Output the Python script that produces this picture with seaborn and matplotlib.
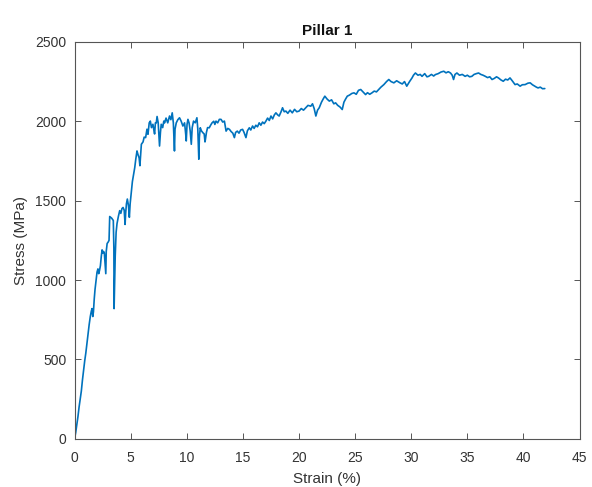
import matplotlib
matplotlib.use("Agg")
import matplotlib.pyplot as plt
import seaborn as sns
import pandas as pd

strain = [0.0, 0.1, 0.2, 0.3, 0.4, 0.5, 0.6, 0.7, 0.8, 0.9, 1.0, 1.1, 1.2, 1.3, 1.4, 1.48, 1.55, 1.62, 1.68, 1.75,
          1.82, 1.9, 2.0, 2.08, 2.15, 2.22, 2.3, 2.38, 2.45, 2.52, 2.58, 2.65, 2.72, 2.78, 2.82, 2.9, 3.0, 3.07, 3.13, 3.3,
          3.45, 3.5, 3.52, 3.56, 3.62, 3.7, 3.78, 3.9, 4.02, 4.12, 4.22, 4.32, 4.42, 4.5, 4.55, 4.62, 4.7, 4.8, 4.88, 4.95,
          5.06, 5.15, 5.25, 5.36, 5.45, 5.56, 5.65, 5.75, 5.82, 5.9, 5.95, 6.1, 6.2, 6.33, 6.45, 6.54, 6.65, 6.75, 6.85, 6.98,
          7.05, 7.13, 7.2, 7.28, 7.35, 7.45, 7.52, 7.57, 7.65, 7.72, 7.85, 7.95, 8.02, 8.15, 8.3, 8.46, 8.58, 8.7, 8.8, 8.86,
          8.9, 8.95, 9.06, 9.2, 9.35, 9.5, 9.65, 9.8, 9.9, 9.95, 10.02, 10.1, 10.2, 10.3, 10.4, 10.48, 10.6, 10.75, 10.9, 10.98,
          11.03, 11.07, 11.12, 11.2, 11.3, 11.43, 11.55, 11.62, 11.66, 11.75, 11.85, 12.0, 12.12, 12.25, 12.4, 12.5, 12.6, 12.75, 12.9, 13.05,
          13.2, 13.35, 13.45, 13.5, 13.65, 13.8, 13.95, 14.1, 14.24, 14.35, 14.5, 14.65, 14.8, 14.97, 15.1, 15.27, 15.4, 15.57, 15.7, 15.86,
          16.0, 16.15, 16.3, 16.45, 16.6, 16.75, 16.9, 17.05, 17.2, 17.35, 17.5, 17.65, 17.8, 17.94, 18.1, 18.23, 18.4, 18.53, 18.68, 18.83,
          19.0, 19.2, 19.4, 19.6, 19.8, 20.0, 20.2, 20.4, 20.6, 20.8, 21.05, 21.2, 21.35, 21.5, 21.65, 21.8, 22.0, 22.15, 22.3, 22.5,
          22.7, 22.9, 23.1, 23.26, 23.45, 23.65, 23.85, 24.0, 24.15, 24.3, 24.5, 24.7, 24.9, 25.1, 25.3, 25.5, 25.7, 25.93, 26.1, 26.3,
          26.5, 26.7, 26.9, 27.1, 27.3, 27.56, 27.8, 28.0, 28.2, 28.45, 28.7, 29.0, 29.2, 29.4, 29.6, 29.85, 30.07, 30.2, 30.37, 30.6,
          30.8, 30.96, 31.2, 31.4, 31.55, 31.8, 32.0, 32.15, 32.4, 32.65, 32.9, 33.1, 33.3, 33.5, 33.65, 33.77, 33.9, 34.07, 34.3, 34.55,
          34.8, 35.0, 35.2, 35.4, 35.6, 35.8, 36.0, 36.2, 36.4, 36.6, 36.8, 37.0, 37.2, 37.4, 37.6, 37.77, 38.0, 38.2, 38.4, 38.6,
          38.8, 39.0, 39.25, 39.45, 39.7, 39.9, 40.15, 40.4, 40.6, 40.8, 41.0, 41.15, 41.3, 41.5, 41.7, 41.9]

stress = [0, 40, 90, 140, 200, 250, 300, 370, 430, 490, 540, 600, 660, 720, 770, 800, 820, 770, 800, 880,
          940, 990, 1050, 1070, 1040, 1060, 1090, 1150, 1190, 1170, 1180, 1170, 1100, 1040, 1180, 1230, 1240, 1250, 1400, 1390,
          1375, 1200, 820, 950, 1150, 1300, 1355, 1400, 1437, 1420, 1450, 1457, 1440, 1350, 1420, 1480, 1510, 1470, 1395, 1480,
          1560, 1620, 1660, 1708, 1760, 1813, 1790, 1770, 1720, 1800, 1855, 1870, 1900, 1897, 1950, 1918, 1990, 2001, 1960, 1981,
          1950, 1920, 1990, 1990, 2030, 1990, 1900, 1844, 1930, 1981, 1960, 2001, 1990, 2020, 1990, 2033, 2010, 2053, 1990, 1880,
          1813, 1950, 1990, 2010, 2022, 2000, 1970, 1990, 1920, 1876, 1980, 2012, 1990, 1940, 1855, 1960, 2001, 1990, 2022, 1950,
          1850, 1761, 1900, 1959, 1940, 1928, 1920, 1870, 1886, 1930, 1960, 1959, 1975, 1990, 2000, 1980, 2001, 1990, 2012, 2012,
          1995, 2001, 1960, 1938, 1955, 1949, 1935, 1925, 1897, 1930, 1938, 1925, 1945, 1949, 1930, 1897, 1940, 1959, 1945, 1970,
          1955, 1975, 1965, 1990, 1975, 1995, 1985, 2001, 2020, 2005, 2033, 2015, 2040, 2053, 2040, 2033, 2060, 2085, 2060, 2064,
          2050, 2070, 2053, 2075, 2060, 2064, 2080, 2070, 2085, 2100, 2095, 2110, 2080, 2033, 2070, 2085, 2120, 2140, 2158, 2140,
          2127, 2135, 2110, 2116, 2100, 2090, 2074, 2120, 2140, 2158, 2165, 2175, 2179, 2170, 2195, 2200, 2185, 2168, 2180, 2170,
          2179, 2190, 2185, 2200, 2215, 2231, 2250, 2263, 2250, 2242, 2255, 2242, 2235, 2250, 2221, 2250, 2273, 2290, 2304, 2290,
          2295, 2283, 2300, 2280, 2283, 2295, 2285, 2294, 2300, 2310, 2315, 2305, 2312, 2304, 2290, 2263, 2295, 2304, 2290, 2295,
          2283, 2290, 2280, 2283, 2295, 2300, 2304, 2295, 2290, 2283, 2275, 2280, 2263, 2270, 2280, 2273, 2260, 2252, 2265, 2260,
          2273, 2255, 2231, 2235, 2221, 2230, 2231, 2240, 2242, 2230, 2221, 2215, 2210, 2215, 2205, 2206]

x_ticks = [0, 5, 10, 15, 20, 25, 30, 35, 40, 45]
y_ticks = [0, 500, 1000, 1500, 2000, 2500]

sns.set_style("white")
plt.rcParams['font.family'] = ['Liberation Sans', 'DejaVu Sans']

df = pd.DataFrame({"Strain (%)": strain, "Stress (MPa)": stress})

fig = plt.figure(figsize=(5.92, 4.87), dpi=100)
ax = fig.add_axes([0.126, 0.099, 0.853, 0.815])
sns.lineplot(data=df, x="Strain (%)", y="Stress (MPa)", sort=False, estimator=None,
             color="#0072BD", linewidth=1.2, ax=ax)

ax.set_xlim(0, 45)
ax.set_ylim(0, 2500)
ax.set_xticks(x_ticks)
ax.set_yticks(y_ticks)
ax.set_title("Pillar 1", fontsize=11, fontweight="bold", color="#111111", pad=5)
ax.set_xlabel("Strain (%)", fontsize=11, color="#333333", labelpad=5)
ax.set_ylabel("Stress (MPa)", fontsize=11, color="#333333", labelpad=5)
for s in ax.spines.values():
    s.set_visible(True)
    s.set_color("#555555")
    s.set_linewidth(0.8)
ax.tick_params(direction="in", length=4, width=0.7, colors="#555555", labelsize=10,
               top=True, right=True, bottom=True, left=True)
ax.tick_params(axis="x", pad=9)
ax.tick_params(axis="y", pad=6)
ax.tick_params(axis="both", labelcolor="#333333")
ax.grid(False)

fig.savefig("out.png", dpi=100)
